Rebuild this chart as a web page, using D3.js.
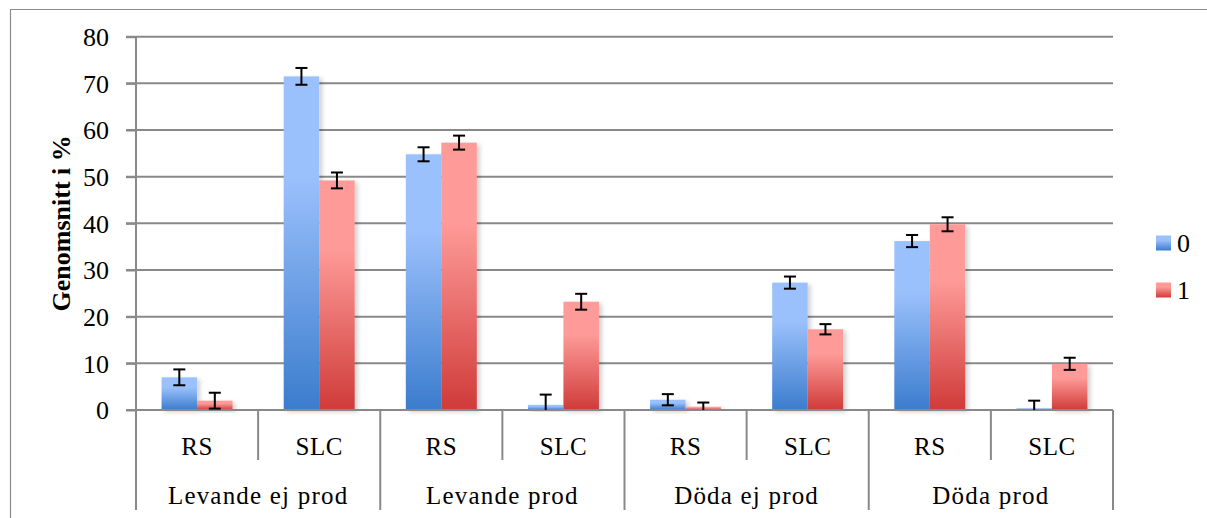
<!DOCTYPE html>
<html>
<head>
<meta charset="utf-8">
<script src="https://cdn.jsdelivr.net/npm/d3@7"></script>
<style>
  body { margin: 0; background: #fff; overflow: hidden; }
  svg { display: block; }
  text { font-family: "Liberation Serif", serif; fill: #000; }
</style>
</head>
<body>
<svg id="chart" width="1207" height="518"></svg>
<script>
// chart data
var groups = ["Levande ej prod", "Levande prod", "Döda ej prod", "Döda prod"];
var subs = ["RS", "SLC"];
var seriesNames = ["0", "1"];
// mean values, order: group x sub
var series0 = [7.0, 71.5, 54.8, 1.1, 2.2, 27.3, 36.2, 0.4];
var series1 = [2.0, 49.2, 57.3, 23.2, 0.7, 17.3, 39.8, 9.9];
// error bar half lengths
var err0 = [1.7, 1.8, 1.5, 2.2, 1.2, 1.3, 1.3, 1.6];
var err1 = [1.7, 1.7, 1.5, 1.7, 0.9, 1.1, 1.5, 1.3];
var yTicks = [0, 10, 20, 30, 40, 50, 60, 70, 80];

var svg = d3.select("#chart");
var grid = "#898989";

var plotLeft = 136, plotRight = 1113, plotTop = 36.7, plotBottom = 410;

var y = d3.scaleLinear().domain([0, 80]).range([plotBottom, plotTop]);
var xGroup = d3.scaleBand().domain(groups).range([plotLeft, plotRight]);
var xSub = d3.scaleBand().domain(subs).range([0, xGroup.bandwidth()]);
var xSer = d3.scaleBand().domain(seriesNames).range([0, xSub.bandwidth()]).paddingOuter(0.72);

// build rows from arrays
var rows = [];
groups.forEach(function(g, gi) {
  subs.forEach(function(s, si) {
    var i = gi * subs.length + si;
    rows.push({group: g, sub: s, ser: "0", value: series0[i], err: err0[i]});
    rows.push({group: g, sub: s, ser: "1", value: series1[i], err: err1[i]});
  });
});

// gradients + shadow
var defs = svg.append("defs");
function grad(id, c1, c2) {
  var lg = defs.append("linearGradient").attr("id", id)
    .attr("x1", 0).attr("y1", 0).attr("x2", 0).attr("y2", 1);
  lg.append("stop").attr("offset", "0%").attr("stop-color", c1);
  lg.append("stop").attr("offset", "30%").attr("stop-color", c1);
  lg.append("stop").attr("offset", "100%").attr("stop-color", c2);
}
grad("g0", "#9bc1fc", "#3b7ccd");
grad("g1", "#fe9b98", "#cf3b39");
var f = defs.append("filter").attr("id", "shadow")
  .attr("x", "-20%").attr("y", "-20%").attr("width", "150%").attr("height", "150%");
f.append("feDropShadow").attr("dx", 3).attr("dy", 2).attr("stdDeviation", 2)
  .attr("flood-color", "#000").attr("flood-opacity", 0.18);

// outer border (runs past the window on right and bottom)
svg.append("path").attr("d", "M10.5,530V9.5H1220")
  .attr("fill", "none").attr("stroke", "#8c8c8c").attr("stroke-width", 1.2);

// gridlines
svg.append("g").selectAll("line").data(yTicks).enter().append("line")
  .attr("x1", plotLeft - 10).attr("x2", plotRight)
  .attr("y1", function(d) { return y(d); }).attr("y2", function(d) { return y(d); })
  .attr("stroke", grid).attr("stroke-width", 2);

// y axis
var yAxis = svg.append("g").attr("transform", "translate(" + plotLeft + ",0)")
  .call(d3.axisLeft(y).tickValues(yTicks).tickSize(10).tickPadding(17));
yAxis.select(".domain").remove();
yAxis.selectAll(".tick line").attr("stroke", grid).attr("stroke-width", 2);
yAxis.selectAll(".tick text").attr("font-size", 26).attr("font-family", "Liberation Serif").attr("dy", "0.34em");

svg.append("text")
  .attr("transform", "translate(70," + ((plotTop + plotBottom) / 2) + ") rotate(-90)")
  .attr("text-anchor", "middle")
  .attr("font-size", 26).attr("font-weight", "bold")
  .text("Genomsnitt i %");

// vertical axis line
svg.append("line").attr("x1", plotLeft).attr("x2", plotLeft).attr("y1", plotTop).attr("y2", plotBottom)
  .attr("stroke", grid).attr("stroke-width", 2);

// category separators
groups.concat([null]).forEach(function(g) {
  var x = g ? xGroup(g) : plotRight;
  svg.append("line").attr("x1", x).attr("x2", x).attr("y1", plotBottom).attr("y2", 510)
    .attr("stroke", grid).attr("stroke-width", 2);
});
groups.forEach(function(g) {
  var x = xGroup(g) + xSub("SLC");
  svg.append("line").attr("x1", x).attr("x2", x).attr("y1", plotBottom).attr("y2", 460)
    .attr("stroke", grid).attr("stroke-width", 2);
});

// bars
var bars = svg.append("g");
bars.selectAll("rect").data(rows).enter().append("rect")
  .attr("x", function(d) { return xGroup(d.group) + xSub(d.sub) + xSer(d.ser); })
  .attr("y", function(d) { return y(d.value); })
  .attr("width", xSer.bandwidth())
  .attr("height", function(d) { return y(0) - y(d.value); })
  .attr("fill", function(d) { return "url(#g" + d.ser + ")"; })
  .attr("filter", "url(#shadow)");

// redraw baseline over shadow
svg.append("line").attr("x1", plotLeft - 10).attr("x2", plotRight).attr("y1", plotBottom).attr("y2", plotBottom)
  .attr("stroke", grid).attr("stroke-width", 2);

// error bars
var eb = svg.append("g").attr("stroke", "#000").attr("stroke-width", 2);
rows.forEach(function(d) {
  var cx = xGroup(d.group) + xSub(d.sub) + xSer(d.ser) + xSer.bandwidth() / 2;
  var lo = Math.max(0, d.value - d.err), hi = d.value + d.err;
  eb.append("line").attr("x1", cx).attr("x2", cx).attr("y1", y(lo)).attr("y2", y(hi));
  eb.append("line").attr("x1", cx - 6).attr("x2", cx + 6).attr("y1", y(hi)).attr("y2", y(hi));
  if (d.value - d.err > 0)
    eb.append("line").attr("x1", cx - 6).attr("x2", cx + 6).attr("y1", y(lo)).attr("y2", y(lo));
});

// sub labels
rows.filter(function(d) { return d.ser === "0"; }).forEach(function(d) {
  svg.append("text")
    .attr("x", xGroup(d.group) + xSub(d.sub) + xSub.bandwidth() / 2)
    .attr("y", 446).attr("dy", "0.35em")
    .attr("text-anchor", "middle").attr("font-size", 25).attr("letter-spacing", 0.5)
    .text(d.sub);
});
// group labels
groups.forEach(function(g) {
  svg.append("text")
    .attr("x", xGroup(g) + xGroup.bandwidth() / 2)
    .attr("y", 495).attr("dy", "0.35em")
    .attr("text-anchor", "middle").attr("font-size", 25).attr("letter-spacing", 1.2)
    .text(g);
});

// legend
var legend = svg.append("g");
seriesNames.forEach(function(s, i) {
  var ly = 243 + i * 47;
  legend.append("rect").attr("x", 1156).attr("y", ly - 7.5).attr("width", 15).attr("height", 15)
    .attr("fill", "url(#g" + s + ")");
  legend.append("text").attr("x", 1177).attr("y", ly).attr("dy", "0.35em")
    .attr("font-size", 26).text(s);
});
</script>
</body>
</html>
